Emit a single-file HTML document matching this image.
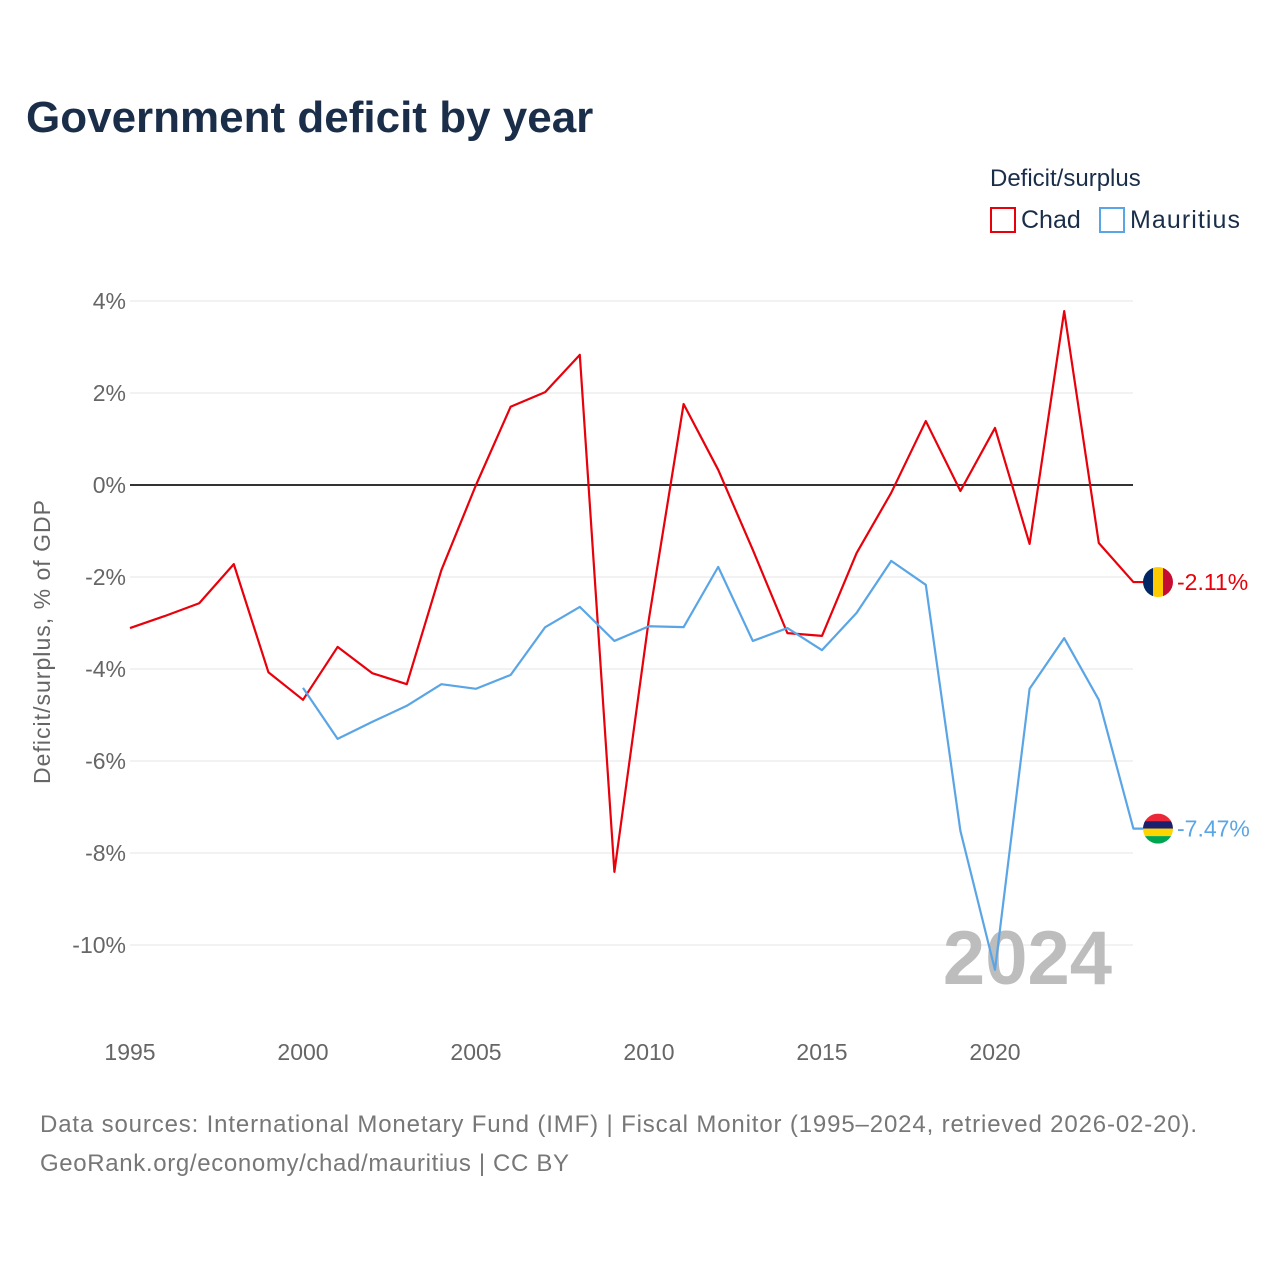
<!DOCTYPE html>
<html><head><meta charset="utf-8"><style>
body{margin:0;background:#fff;font-family:"Liberation Sans",sans-serif;}
svg text{font-family:"Liberation Sans",sans-serif;}
</style></head><body>
<svg width="1280" height="1280" viewBox="0 0 1280 1280" xmlns="http://www.w3.org/2000/svg">
<rect width="1280" height="1280" fill="#fff"/>
<text x="26" y="132" font-size="44" font-weight="bold" fill="#1a2e4a">Government deficit by year</text>
<text x="990" y="186" font-size="24" fill="#1a2e4a">Deficit/surplus</text>
<g><rect x="991" y="208" width="24" height="24" fill="none" stroke="#e8000b" stroke-width="2"/><text x="1021" y="228" font-size="25" fill="#1a2e4a">Chad</text></g>
<g><rect x="1100" y="208" width="24" height="24" fill="none" stroke="#5aa5e6" stroke-width="2"/><text x="1130" y="228" font-size="25" fill="#1a2e4a" textLength="110">Mauritius</text></g>
<g id="grid"></g>
<g id="yt"></g>
<g id="xt"></g>
<text transform="translate(50,642) rotate(-90)" text-anchor="middle" font-size="23" fill="#666" textLength="284">Deficit/surplus, % of GDP</text>
<text x="1112" y="984" text-anchor="end" font-size="76" font-weight="bold" fill="#bdbdbd">2024</text>
<g id="series"></g>
<text x="40" y="1132" font-size="24" fill="#777" textLength="1157">Data sources: International Monetary Fund (IMF) | Fiscal Monitor (1995–2024, retrieved 2026-02-20).</text>
<text x="40" y="1171" font-size="24" fill="#777" textLength="529">GeoRank.org/economy/chad/mauritius | CC BY</text>
</svg>
<script>
const yTicks=[4,2,0,-2,-4,-6,-8,-10];
const xTicks=[1995,2000,2005,2010,2015,2020];
const chadYears=[1995,1996,1997,1998,1999,2000,2001,2002,2003,2004,2005,2006,2007,2008,2009,2010,2011,2012,2013,2014,2015,2016,2017,2018,2019,2020,2021,2022,2023,2024];
const chadValues=[-3.11,-2.85,-2.57,-1.72,-4.07,-4.67,-3.52,-4.09,-4.33,-1.85,0.0,1.70,2.02,2.83,-8.41,-2.9,1.76,0.33,-1.41,-3.22,-3.28,-1.48,-0.17,1.39,-0.13,1.24,-1.28,3.78,-1.26,-2.11];
const mauYears=[2000,2001,2002,2003,2004,2005,2006,2007,2008,2009,2010,2011,2012,2013,2014,2015,2016,2017,2018,2019,2020,2021,2022,2023,2024];
const mauValues=[-4.41,-5.52,-5.15,-4.8,-4.33,-4.43,-4.13,-3.09,-2.65,-3.39,-3.07,-3.09,-1.78,-3.39,-3.11,-3.59,-2.78,-1.65,-2.17,-7.52,-10.54,-4.43,-3.33,-4.67,-7.47];
const NS='http://www.w3.org/2000/svg';
const xS=y=>130+(y-1995)*34.6;
const yS=v=>485-v*46;
function mk(t,a,p){const e=document.createElementNS(NS,t);for(const k in a)e.setAttribute(k,a[k]);p.appendChild(e);return e;}
const grid=document.getElementById('grid'),yt=document.getElementById('yt'),xt=document.getElementById('xt'),ser=document.getElementById('series');
yTicks.forEach(v=>{
 const l=mk('line',{x1:130,x2:1133,y1:yS(v),y2:yS(v),stroke:v===0?'#333':'#e6e6e6','stroke-width':v===0?2:1},grid);
 
 
 const t=mk('text',{x:126,y:yS(v)+8,'text-anchor':'end','font-size':23,fill:'#666'},yt);
 t.textContent=v+'%';
 
 
});
xTicks.forEach(v=>{
 const t=mk('text',{x:xS(v),y:1060,'text-anchor':'middle','font-size':23,fill:'#666'},xt);
 t.textContent=v;
 
 
});
function line(xs,vs,color,name){
 let d=xs.map((x,i)=>(i?'L':'M')+xS(x)+' '+yS(vs[i])).join(' ');
 d+=' L'+(xS(xs[xs.length-1])+10)+' '+yS(vs[vs.length-1]);
 const p=mk('path',{d:d,fill:'none',stroke:color,'stroke-width':2.2,'stroke-linejoin':'round'},ser);
 
 
 const last=vs[vs.length-1],cy=yS(last);
 const t=mk('text',{x:1177,y:cy+8,'font-size':23,fill:color},ser);
 t.textContent=last.toFixed(2)+'%';
 
 
 return cy;
}
const c1=line(chadYears,chadValues,'#e8000b','chad');
const c2=line(mauYears,mauValues,'#5aa5e6','mauritius');
const f1=mk('g',{},ser);


mk('clipPath',{id:'cf1'},f1).appendChild(document.createElementNS(NS,'circle'));
const cc1=f1.querySelector('circle');cc1.setAttribute('cx',1158);cc1.setAttribute('cy',c1);cc1.setAttribute('r',15);
mk('rect',{x:1143,y:c1-15,width:10,height:30,fill:'#002664','clip-path':'url(#cf1)'},f1);
mk('rect',{x:1153,y:c1-15,width:10,height:30,fill:'#fecb00','clip-path':'url(#cf1)'},f1);
mk('rect',{x:1163,y:c1-15,width:10,height:30,fill:'#c60c30','clip-path':'url(#cf1)'},f1);
const f2=mk('g',{},ser);


mk('clipPath',{id:'cf2'},f2).appendChild(document.createElementNS(NS,'circle'));
const cc2=f2.querySelector('circle');cc2.setAttribute('cx',1158);cc2.setAttribute('cy',c2);cc2.setAttribute('r',15);
['#ea2839','#1a206d','#ffd500','#00a551'].forEach((c,i)=>mk('rect',{x:1143,y:c2-15+i*7.5,width:30,height:7.6,fill:c,'clip-path':'url(#cf2)'},f2));
</script>
</body></html>
